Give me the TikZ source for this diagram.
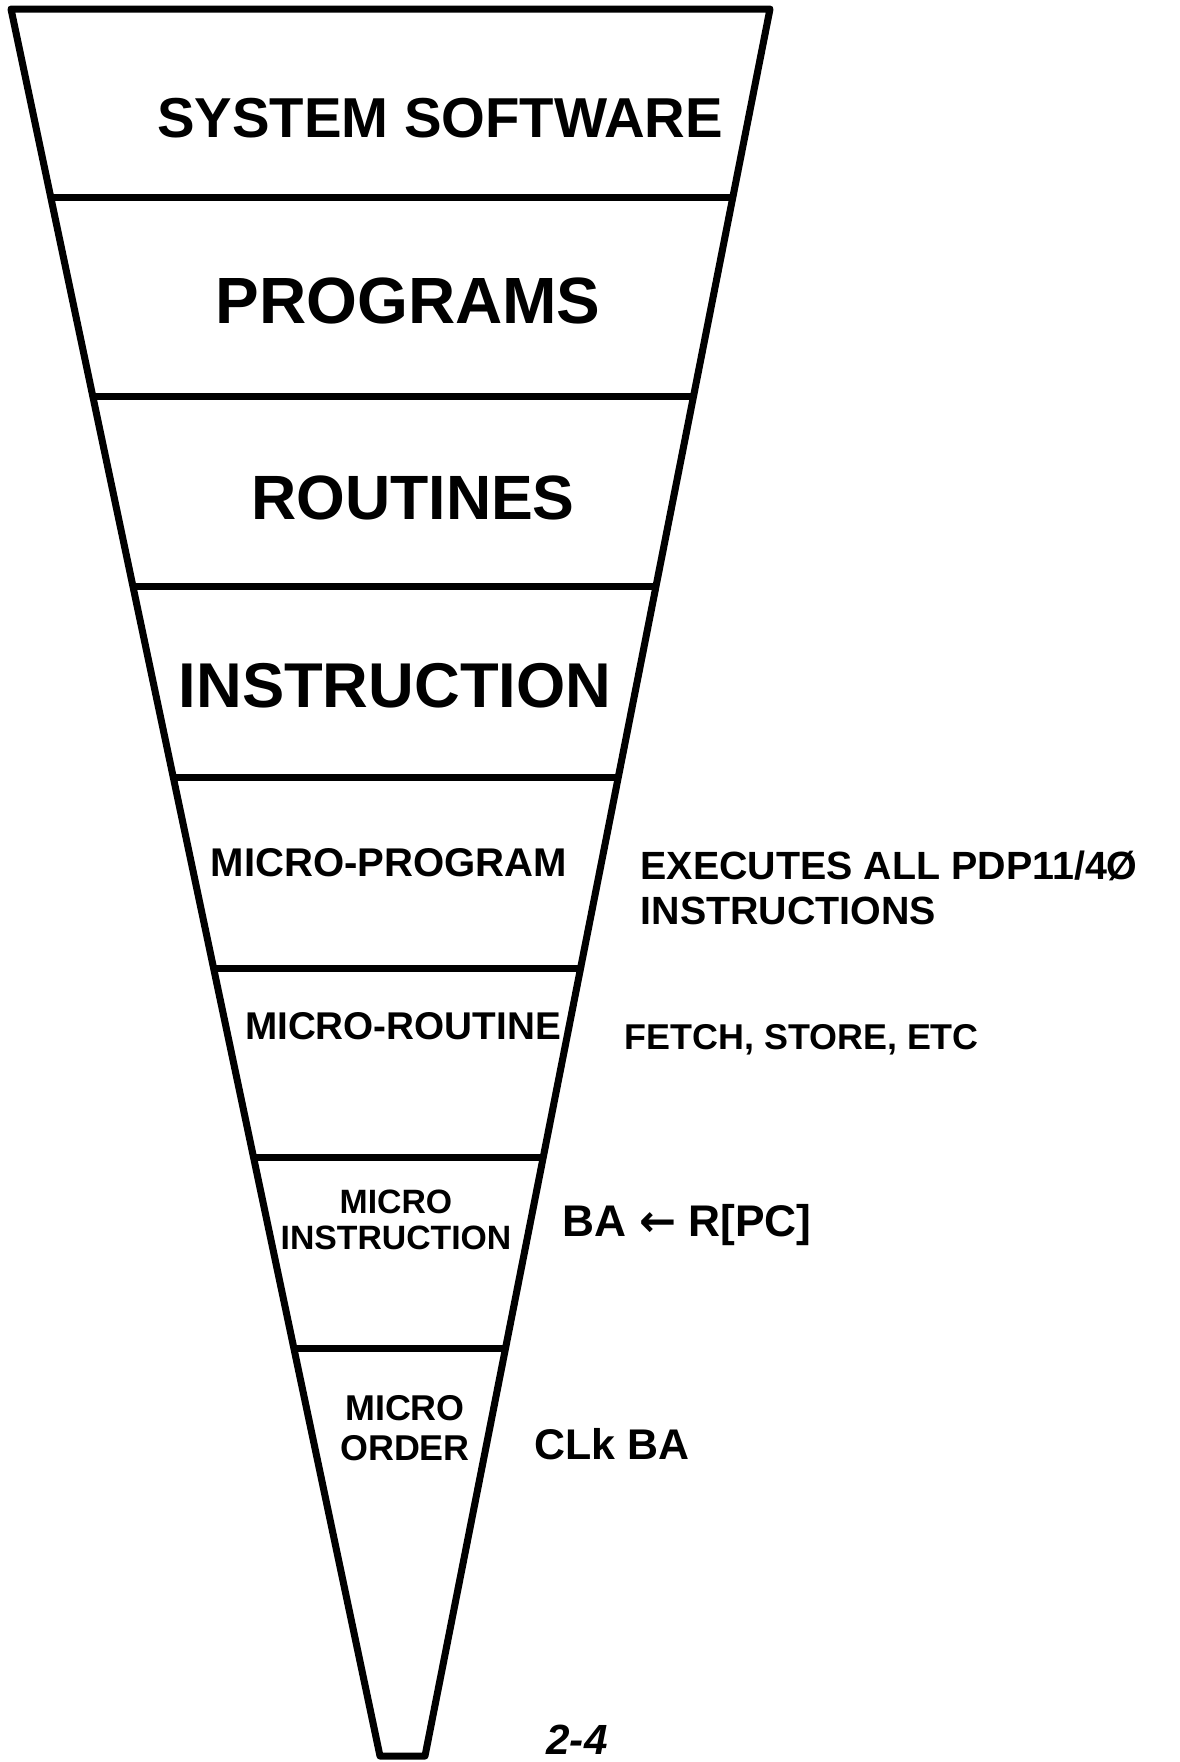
\documentclass[tikz,border=0pt]{standalone}
\usepackage{fontspec}
\setmainfont{Liberation Sans}
\newfontfamily\symfont{DejaVu Sans}
\usetikzlibrary{calc}
\tikzset{ wall/.style = { draw
                        , line width = 2pt
                        , line join  = round
                        },
          lvl/.style  = { inner sep = 0pt
                        , align     = center
                        },
          note/.style = { anchor    = west
                        , inner sep = 0pt
                        , align     = left
                        }
        }

\begin{document}
\begin{tikzpicture}[x=0.01cm, y=-0.01cm, font=\bfseries]
  \useasboundingbox (0,0) rectangle (1180,1762);
  % funnel outline
  \coordinate (tl) at (11,9);
  \coordinate (tr) at (770,9);
  \coordinate (bl) at (380,1756);
  \coordinate (br) at (425,1756);
  \draw[wall] (bl) -- (tl) -- (tr) -- (br) -- cycle;
  % level dividers
  \foreach \f in {0.1081,0.2220,0.3307,0.4399,0.5492,0.6573,0.7666}
    \draw[wall] ($(tl)!\f!(bl)$) -- ($(tr)!\f!(br)$);

  \node[lvl, font=\bfseries\fontsize{16}{18}\selectfont] (ss) at (440,118) {SYSTEM SOFTWARE};
  \node[lvl, font=\bfseries\fontsize{18.6}{20}\selectfont] (pr) at (408,301) {PROGRAMS};
  \node[lvl, font=\bfseries\fontsize{17.8}{20}\selectfont] (ro) at (413,498) {ROUTINES};
  \node[lvl, font=\bfseries\fontsize{18}{20}\selectfont] (in) at (395,686) {INSTRUCTION};
  \node[lvl, font=\bfseries\fontsize{11.4}{13}\selectfont] (mp) at (389,863) {MICRO-PROGRAM};
  \node[lvl, font=\bfseries\fontsize{11}{13}\selectfont] (mr) at (403,1026) {MICRO-ROUTINE};
  \node[lvl, font=\bfseries\fontsize{9.6}{10.4}\selectfont] (mi) at (396,1220) {MICRO\\INSTRUCTION};
  \node[lvl, font=\bfseries\fontsize{10.2}{11.2}\selectfont] (mo) at (405,1428) {MICRO\\ORDER};

  \node[note, font=\bfseries\fontsize{11.2}{12.8}\selectfont] (exe) at (640,888) {EXECUTES ALL PDP11/4Ø\\INSTRUCTIONS};
  \node[note, font=\bfseries\fontsize{10.2}{12}\selectfont] (fs) at (624,1040) {FETCH, STORE, ETC};
  \node[note, font=\bfseries\fontsize{12.6}{14}\selectfont] (ba) at (562,1225) {BA {\symfont\bfseries ←} R[PC]};
  \node[note, font=\bfseries\fontsize{12.2}{14}\selectfont] (clk) at (534,1444) {CLk BA};
  \node[font=\bfseries\itshape\fontsize{12}{12}\selectfont] (pg) at (577,1740) {2-4};
\end{tikzpicture}
\end{document}
